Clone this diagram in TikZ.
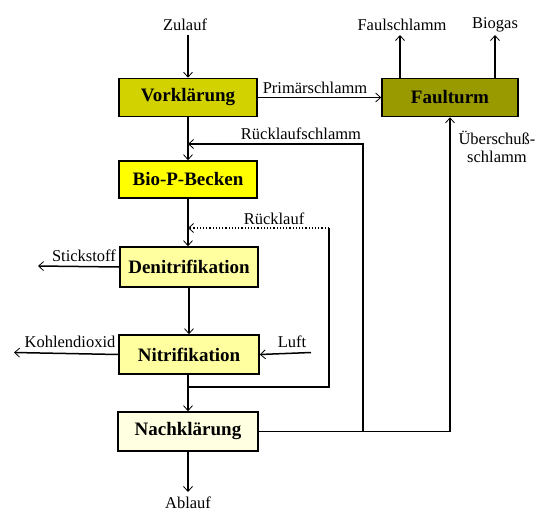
\documentclass[tikz,border=0pt]{standalone}
\usepackage{fontspec}
\setmainfont{Liberation Serif}
\usetikzlibrary{arrows.meta}
\definecolor{cvk}{RGB}{210,210,0}
\definecolor{cft}{RGB}{153,153,0}
\definecolor{cbp}{RGB}{255,255,0}
\definecolor{cdn}{RGB}{255,255,160}
\definecolor{cnk}{RGB}{255,255,225}
\tikzset{
  box/.style={draw=black,line width=1.6pt,minimum width=138pt,minimum height=38pt,inner sep=0pt,
    font=\fontsize{19}{21}\selectfont\bfseries},
  lbl/.style={font=\fontsize{16.5}{17}\selectfont,inner sep=1pt},
  flow/.style={line width=1.5pt,-{Straight Barb[length=5pt,width=9pt,line width=0.8pt]}},
  plain/.style={line width=1.5pt},
}
\begin{document}
\begin{tikzpicture}[x=1pt,y=-1pt]
\useasboundingbox (0,0) rectangle (538,511);
% boxes
\node[box,fill=cvk] (vk) at (188,97.5) {Vorklärung};
\node[box,fill=cft,minimum width=136pt] (ft) at (450,97.5) {Faulturm};
\node[box,fill=cbp,minimum height=37pt] (bp) at (188,179.5) {Bio-P-Becken};
\node[box,fill=cdn,minimum height=40pt] (dn) at (189,267) {Denitrifikation};
\node[box,fill=cdn,minimum width=140pt,minimum height=39pt] (ni) at (189,354.5) {Nitrifikation};
\node[box,fill=cnk,minimum width=140pt,minimum height=39pt] (nk) at (188,431.5) {Nachklärung};
% labels
\node[lbl] (zu) at (185,25) {Zulauf};
\node[lbl] (fs) at (402,25) {Faulschlamm};
\node[lbl] (bg) at (495,25) {Biogas};
\node[lbl] (ab) at (188,503) {Ablauf};
\node[lbl] (ps) at (315,88) {Primärschlamm};
\node[lbl] (rs) at (301,134) {Rücklaufschlamm};
\node[lbl,align=center,font=\fontsize{16.5}{18}\selectfont] (us) at (497,147) {Überschuß-\\schlamm};
\node[lbl] (rl) at (274,219) {Rücklauf};
\node[lbl] (st) at (84,256) {Stickstoff};
\node[lbl] (kd) at (70,342) {Kohlendioxid};
\node[lbl] (lu) at (292,342) {Luft};
% coordinates
\coordinate (zuE) at (188,35);
\coordinate (fsE) at (400,35);
\coordinate (bgE) at (495,35);
\coordinate (stE) at (38,266);
\coordinate (kdE) at (14,352.5);
\coordinate (luS) at (311,352.5);
\coordinate (abE) at (188,492);
\coordinate (rsJ) at (188,144);
\coordinate (rsB) at (363,431.5);
\coordinate (usC) at (450,431.5);
\coordinate (rlB) at (188,387);
\coordinate (rlC) at (329,387);
\coordinate (rlT) at (329,228);
\coordinate (rlJ) at (188,228);
% connectors
\draw[flow] (zuE) -- (vk.north);
\draw[flow] (vk.east) -- (ft.west);
\draw[flow] (ft.north -| fsE) -- (fsE);
\draw[flow] (ft.north -| bgE) -- (bgE);
\draw[flow] (vk.south) -- (bp.north);
\draw[flow] (rsB) |- (rsJ);
\draw[plain] (nk.east) -- (usC);
\draw[flow] (usC) -- (ft.south -| usC);
\draw[flow] (bp.south) -- (dn.north -| bp.south);
\draw[plain] (rlB) -- (rlC) -- (rlT);
\draw[line width=1.2pt,dotted,-{Straight Barb[length=5pt,width=9pt,line width=0.8pt]}] (rlT) -- (rlJ);
\draw[flow] (dn.west) -- (stE);
\draw[flow] (dn.south) -- (ni.north);
\draw[flow] (ni.west) -- (kdE);
\draw[flow] (luS) -- (ni.east);
\draw[flow] (ni.south -| nk.north) -- (nk.north);
\draw[flow] (nk.south) -- (abE);
\end{tikzpicture}
\end{document}
